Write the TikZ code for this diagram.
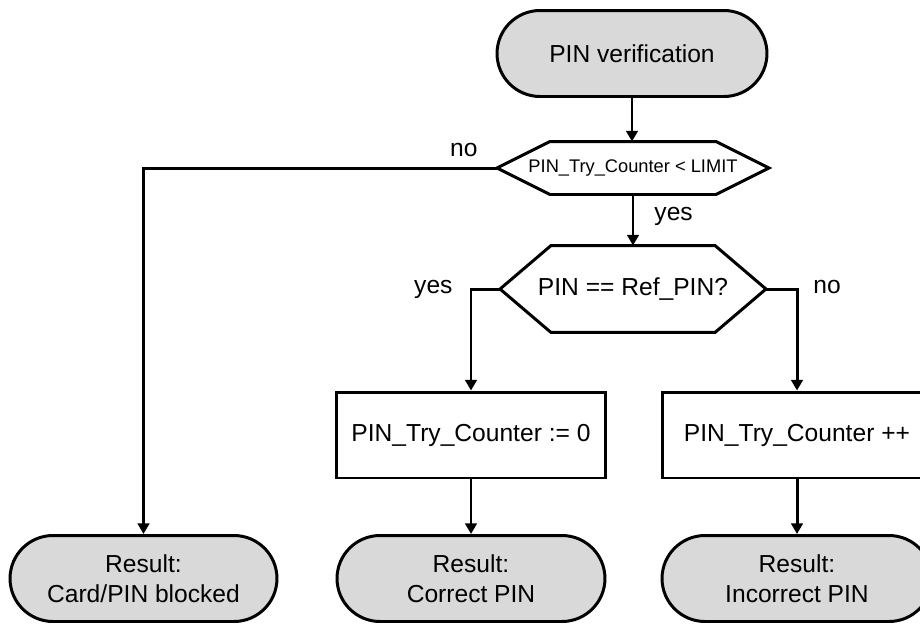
\documentclass[tikz,border=0pt]{standalone}
\usepackage{fontspec}
\setmainfont{Liberation Sans}
\usetikzlibrary{shapes.misc,arrows.meta}
\definecolor{termgray}{RGB}{217,217,217}
\newcommand{\bigfont}{\fontsize{14}{16.8}\selectfont}
\newcommand{\smallfont}{\fontsize{10.4}{12.5}\selectfont}
% Hexagon round a decision node: #1 node name, #2 corner inset
\newcommand{\drawhex}[2]{
    \draw[line width=1.7pt] (#1.west) -- ([xshift=#2]#1.north west)
        -- ([xshift=-#2]#1.north east) -- (#1.east)
        -- ([xshift=-#2]#1.south east) -- ([xshift=#2]#1.south west) -- cycle;
}

\begin{document}
\begin{tikzpicture}[x=0.02cm, y=-0.02cm,
    every node/.style={font=\bigfont, line width=1.7pt},
    terminal/.style={rounded rectangle, draw, fill=termgray, align=center,
        minimum height=1.72cm, inner sep=0pt},
    process/.style={rectangle, draw, fill=white, minimum width=5.4cm,
        minimum height=1.72cm, inner sep=0pt},
    decision/.style={rectangle, inner sep=0pt},
    arrow/.style={line width=1.7pt, -{Triangle[length=6pt, width=6.5pt]}},
    label/.style={inner sep=0pt}]

    % Keep the frame of the picture
    \useasboundingbox (0,0) rectangle (920,623);
    \clip (0,0) rectangle (920,623);

    % Start
    \node[terminal, minimum width=5.4cm] (start) at (632,53.5) {PIN verification};

    % Decisions
    \node[decision, minimum width=5.38cm, minimum height=1.0cm]
        (limit) at (633,168) {\smallfont PIN\_Try\_Counter < LIMIT};
    \drawhex{limit}{1.06cm}
    \node[decision, minimum width=5.26cm, minimum height=1.68cm]
        (check) at (633,289) {PIN == Ref\_PIN?};
    \drawhex{check}{1.02cm}

    % Counter updates
    \node[process] (reset) at (471,435) {PIN\_Try\_Counter := 0};
    \node[process] (incr) at (797,435) {PIN\_Try\_Counter ++};

    % Results
    \node[terminal, minimum width=5.34cm] (blocked) at (143.5,578.5) {Result:\\Card/PIN blocked};
    \node[terminal, minimum width=5.36cm] (correct) at (471,578.5) {Result:\\Correct PIN};
    \node[terminal, minimum width=5.4cm] (wrong) at (797,578.5) {Result:\\Incorrect PIN};

    % Draw the connectors
    \draw[arrow] (start.south) -- (start.south |- limit.north);
    \draw[arrow] (limit.west)
        node[label, anchor=base east, xshift=-0.36cm, yshift=0.24cm] (no1) {no}
        -| (blocked.north);
    \draw[arrow] (limit.south) -- node[label, pos=0.5, anchor=base west, xshift=0.4cm] (yes1) {yes}
        (limit.south |- check.north);
    \draw[arrow] (check.west) -| node[label, pos=0.5, anchor=mid east, xshift=-0.34cm] (yes2) {yes}
        (reset.north);
    \draw[arrow] (check.east) -| node[label, pos=0.5, anchor=mid west, xshift=0.3cm] (no2) {no}
        (incr.north);
    \draw[arrow] (reset.south) -- (correct.north);
    \draw[arrow] (incr.south) -- (wrong.north);

\end{tikzpicture}
\end{document}
